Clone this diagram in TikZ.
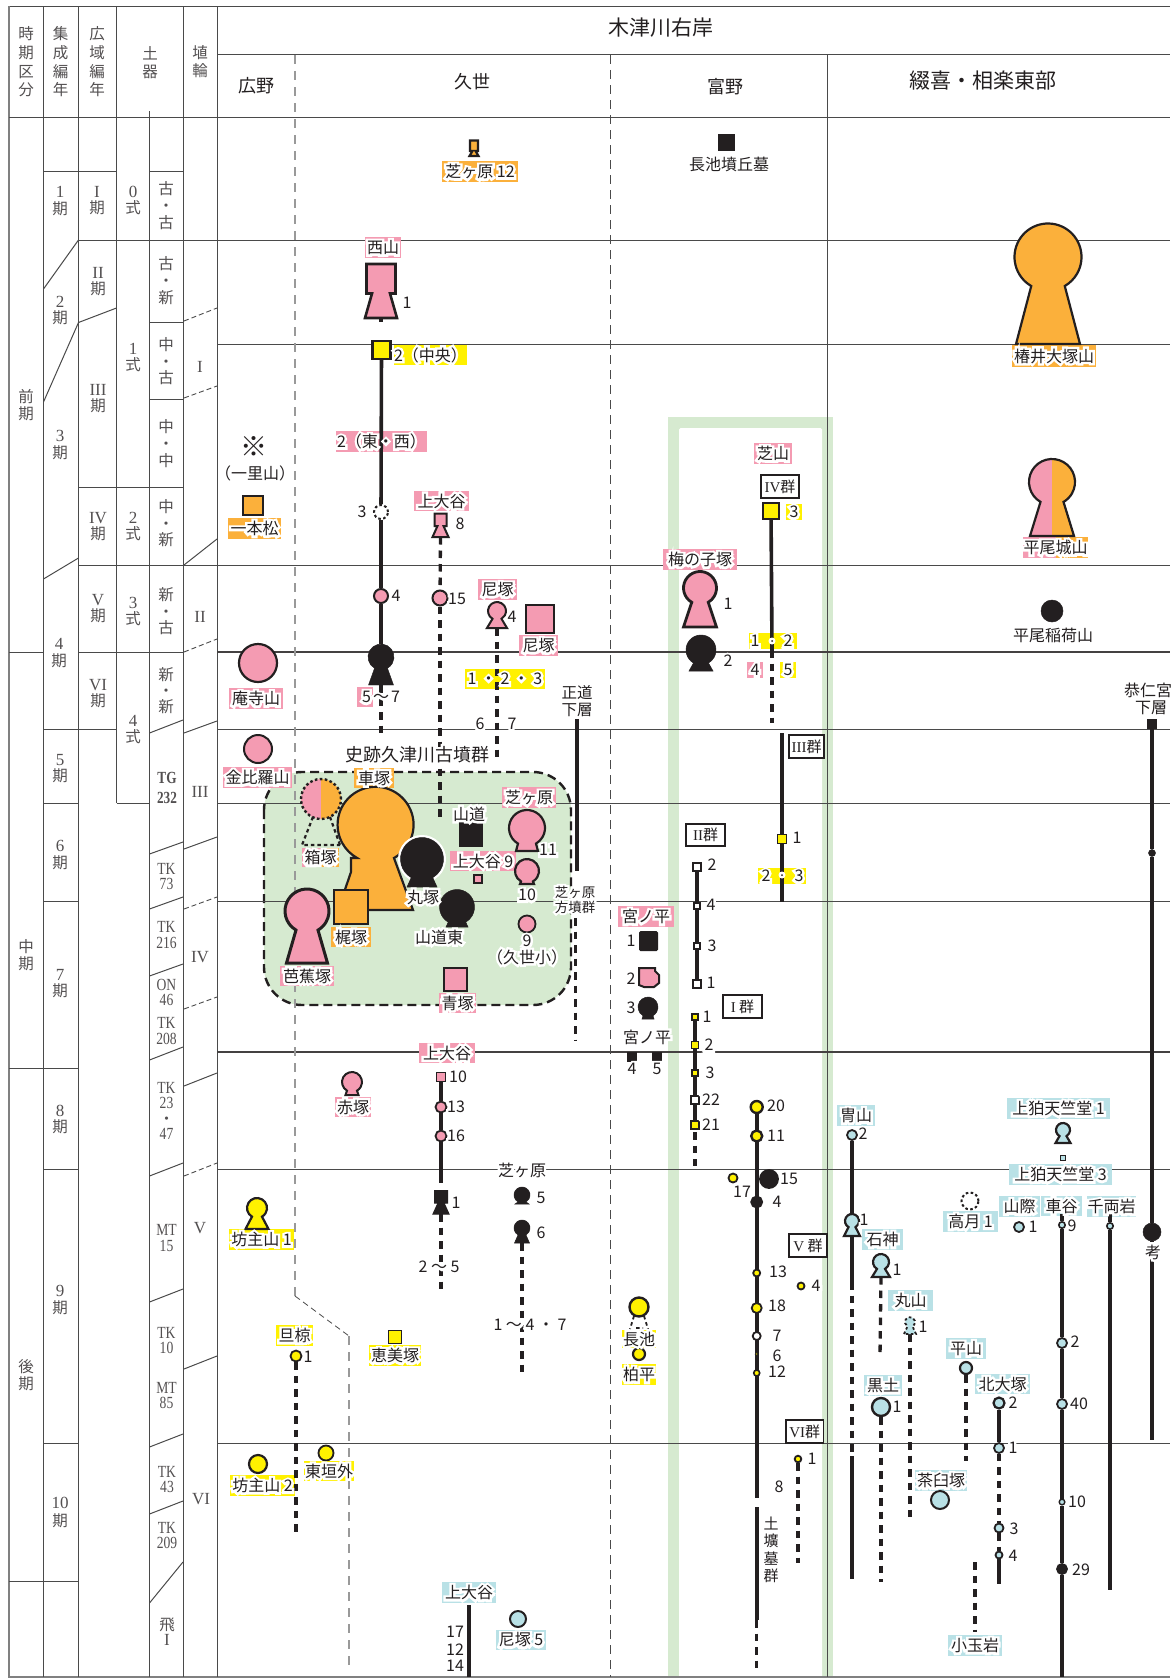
\documentclass[tikz,border=0pt]{standalone}
\usepackage{fontspec}
\usepackage{graphicx}
\setmainfont{Noto Sans CJK JP}
\newfontfamily\ser{Liberation Serif}
\definecolor{ink}{HTML}{231F20}
\definecolor{cpink}{HTML}{F49BB2}
\definecolor{cyel}{HTML}{FFF100}
\definecolor{corg}{HTML}{FBB03B}
\definecolor{cblu}{HTML}{B9E1E6}
\definecolor{cgrn}{HTML}{D6EAD0}
\definecolor{grid}{HTML}{4A4A4A}
\pgfdeclarelayer{l0}\pgfdeclarelayer{l1}\pgfdeclarelayer{l2}\pgfdeclarelayer{l3}\pgfdeclarelayer{l4}
\pgfsetlayers{l0,l1,l2,l3,l4,main}
\newcounter{nn}
\tikzset{
 gl/.style={line width=1pt,draw=grid},
 glk/.style={line width=1.7pt,draw=ink!85},
 gd/.style={line width=.9pt,draw=grid,dash pattern=on 5 off 3},
 sl/.style={line width=3.6pt,draw=ink},
 dl/.style={line width=3.3pt,draw=ink,dash pattern=on 7.5 off 6},
 txt/.style={inner sep=0pt,text=ink,font=\fontsize{16}{17.5}\selectfont},
 tbl/.style={inner sep=0pt,text=ink!78,align=center},
 pk/.style={fill=cpink},yl/.style={fill=cyel},og/.style={fill=corg},bl/.style={fill=cblu},bk/.style={fill=ink},wh/.style={fill=white},
 lw/.style={line width=#1},
 dots/.style={dash pattern=on 2.6 off 2.4},
}
\newcommand\hl[1]{\leavevmode\rlap{\textcolor{white}{\addfontfeature{FakeBold=30}#1}}#1}
\newcommand\lab[6]{\begin{pgfonlayer}{l2}\fill[#1] (#2,#3) rectangle (#4,#5);\end{pgfonlayer}\stepcounter{nn}\node[txt] (n\arabic{nn}) at ({(#2+#4)/2},{(#3+#5)/2}) {\hl{#6}};}
\newcommand\labb[6]{\begin{pgfonlayer}{l2}\fill[cpink] (#2,#3) rectangle ({(#2+#4)/2},#5);\fill[corg] ({(#2+#4)/2},#3) rectangle (#4,#5);\end{pgfonlayer}\stepcounter{nn}\node[txt] (n\arabic{nn}) at ({(#2+#4)/2},{(#3+#5)/2}) {\hl{#6}};}
\newcommand\tx[3]{\stepcounter{nn}\node[txt] (n\arabic{nn}) at (#1,#2) {\hl{#3}};}
\newcommand\gbox[5]{\stepcounter{nn}\node[draw=ink,line width=1.1pt,fill=white,inner sep=0pt,text=ink,font=\fontsize{15}{16}\selectfont,minimum width={(#3-#1)*1pt},minimum height={(#4-#2)*1pt}] (n\arabic{nn}) at ({(#1+#3)/2},{(#2+#4)/2}) {#5};}
\newcommand\cir[5]{\begin{pgfonlayer}{l4}\node[circle,draw=ink,lw=1.8pt,inner sep=0pt,minimum size={2*#4*1pt},#5] (#1) at (#2,#3) {};\end{pgfonlayer}}
\newcommand\sq[5]{\begin{pgfonlayer}{l4}\node[rectangle,draw=ink,lw=1.8pt,inner sep=0pt,minimum size={#4*1pt},#5] (#1) at (#2,#3) {};\end{pgfonlayer}}
\newcommand\keypath[5]{({#1-#5},#4) -- ({#1-#3*cos(60)},{#2+#3*sin(60)}) arc[start angle=120,end angle=420,radius=#3] -- ({#1+#5},#4) -- cycle}
\newcommand\key[7]{\begin{pgfonlayer}{l4}\filldraw[draw=ink,#7] \keypath{#2}{#3}{#4}{#5}{#6};\coordinate (#1) at (#2,#5);\coordinate (#1t) at (#2,{#3-#4});\end{pgfonlayer}}
\newcommand\skey[9]{\begin{pgfonlayer}{l4}\filldraw[draw=ink,#9] ({#2-#4},#3) -- ({#2+#4},#3) -- ({#2+#4},#5) -- ({#2+#6},#5) -- ({#2+#8},#7) -- ({#2-#8},#7) -- ({#2-#6},#5) -- ({#2-#4},#5) -- cycle;\coordinate (#1) at (#2,#7);\coordinate (#1t) at (#2,#3);\end{pgfonlayer}}
\newcommand\pt[3]{\coordinate (#1) at (#2,#3);}
\newcommand\vl[3]{\begin{pgfonlayer}{l3}\draw[#1] (#2) -- (#3);\end{pgfonlayer}}
\newcommand\tb[4]{\stepcounter{nn}\node[tbl,font=\fontsize{15.5}{#3}\selectfont] (n\arabic{nn}) at (#1,#2) {#4};}
\newcommand\dg[1]{{\ser\fontsize{17}{17}\selectfont #1}}
\newcommand\cnd[1]{\scalebox{.8}[1]{\ser\fontsize{17}{17}\selectfont #1}}
\newcommand\bcnd[1]{\scalebox{.78}[1]{\ser\bfseries\fontsize{17}{17}\selectfont #1}}
\begin{document}
\begin{tikzpicture}[x=1pt,y=-1pt]
\useasboundingbox (0,0) rectangle (1170,1678);
% ---- green shapes
\begin{pgfonlayer}{l0}
\fill[white] (0,0) rectangle (1170,1678);
\fill[cgrn] (668,417) rectangle (833,1678);
\fill[white,rounded corners=1.5pt] (679,428) rectangle (822,1690);
\filldraw[fill=cgrn,draw=ink,line width=2.4pt,dash pattern=on 9 off 5,rounded corners=38pt] (264,772) rectangle (571,1005);
\end{pgfonlayer}
% ---- grid
\begin{pgfonlayer}{l1}
\draw[gl] (9,6.5) -- (1170,6.5);
\draw[gl,draw=gray,line width=1.4pt] (9,6.5) -- (9,1677) -- (1170,1677);
\draw[gl] (217,55) -- (1170,55);
\draw[gl] (9,117) -- (1170,117);
\draw[gl] (217,6.5) -- (217,1677);
\draw[gl] (183,6.5) -- (183,1677);
\draw[gl] (149.5,111) -- (149.5,1677);
\draw[gl] (116.5,6.5) -- (116.5,803);
\draw[gl] (78.5,6.5) -- (78.5,1677);
\draw[gl] (43.5,6.5) -- (43.5,1677);
\draw[gl] (827,55) -- (827,1677);
\draw[gl] (43.5,171.5) -- (116.5,171.5);
\draw[gl] (149.5,171.5) -- (183,171.5);
\draw[gl] (78.5,240) -- (1170,240);
\draw[gl] (149.5,322) -- (183,322);
\draw[gl] (217,344) -- (1170,344);
\draw[gl] (149.5,399.5) -- (183,399.5);
\draw[gl] (78.5,487) -- (183,487);
\draw[gl] (78.5,565) -- (1170,565);
\draw[gl] (9,652) -- (43.5,652);
\draw[gl] (78.5,652) -- (183,652);
\draw[glk] (217,652) -- (1170,652);
\draw[gl] (43.5,729) -- (116.5,729);
\draw[gl] (217,729) -- (1170,729);
\draw[gl] (43.5,803) -- (78.5,803);
\draw[gl] (116.5,803) -- (149.5,803);
\draw[gl] (217,803) -- (1170,803);
\draw[gl] (43.5,901) -- (78.5,901);
\draw[gl] (217,901) -- (1170,901);
\draw[glk] (217,1052) -- (1170,1052);
\draw[gl] (9,1068) -- (78.5,1068);
\draw[gl] (43.5,1169) -- (78.5,1169);
\draw[gl] (217,1169) -- (1170,1169);
\draw[gl] (43.5,1443) -- (78.5,1443);
\draw[gl] (217,1443) -- (1170,1443);
\draw[gl] (9,1581) -- (78.5,1581);
% diagonals
\draw[gl] (43.5,289) -- (78.5,240);
\draw[gl] (43.5,402) -- (78.5,322.5) -- (116.5,308);
\draw[gl] (43.5,579) -- (78.5,558);
\draw[gl] (149.5,733) -- (183,720);
\draw[gl] (149.5,854) -- (183,842);
\draw[gl] (149.5,909) -- (183,897);
\draw[gl] (149.5,976) -- (183,964);
\draw[gl] (149.5,1060) -- (183,1047);
\draw[gl] (149.5,1176) -- (183,1163);
\draw[gl] (149.5,1302) -- (183,1289);
\draw[gl] (149.5,1447) -- (183,1434);
\draw[gl] (149.5,1514) -- (183,1501);
\draw[gl] (149.5,1603) -- (183,1562);
\draw[gd] (184,321) -- (217,308);
\draw[gd] (184,398) -- (217,386);
\draw[gl] (184,565) -- (217,539);
\draw[gd] (184,652) -- (217,639);
\draw[gl] (184,733) -- (217,721);
\draw[gl] (184,849) -- (217,837);
\draw[gd] (184,909) -- (217,897);
\draw[gd] (184,1009) -- (217,997);
\draw[gl] (184,1086) -- (217,1073);
\draw[gd] (184,1176) -- (217,1163);
\draw[gl] (184,1369) -- (217,1356);
% regional dashed
\draw[line width=1.1pt,draw=gray!80,dash pattern=on 9 off 7] (295,55) -- (295,1296);
\draw[line width=.8pt,draw=grid,dash pattern=on 6 off 4] (295,1296) -- (349,1336);
\draw[line width=1.1pt,draw=gray!80,dash pattern=on 9 off 7] (349,1336) -- (349,1672);
\draw[line width=.9pt,draw=grid,dash pattern=on 9 off 6] (610,55) -- (610,1677);
\end{pgfonlayer}
% ---- table text
\tb{26}{62}{18.7}{時\\期\\区\\分}
\tb{60.5}{62}{18.7}{集\\成\\編\\年}
\tb{97}{62}{18.7}{広\\域\\編\\年}
\tb{150}{63}{18}{土\\器}
\tb{200}{62}{18}{埴\\輪}
\tb{26}{405}{16.5}{前\\期}
\tb{26}{955.5}{17}{中\\期}
\tb{26}{1375}{16.5}{後\\期}
\tb{60}{201}{16.5}{\dg{1}\\期}
\tb{60}{310.5}{16.5}{\dg{2}\\期}
\tb{60}{445}{16.5}{\dg{3}\\期}
\tb{59}{653}{16.5}{\dg{4}\\期}
\tb{60}{768.5}{16.5}{\dg{5}\\期}
\tb{60}{855}{16.5}{\dg{6}\\期}
\tb{60}{983.5}{16.5}{\dg{7}\\期}
\tb{60}{1119.5}{16.5}{\dg{8}\\期}
\tb{60}{1300}{16.5}{\dg{9}\\期}
\tb{60}{1512.5}{18}{\dg{10}\\期}
\tb{97}{200.5}{16.5}{\dg{I}\\期}
\tb{98}{281.5}{16.5}{\dg{II}\\期}
\tb{98}{398.5}{16.5}{\dg{III}\\期}
\tb{98}{526.5}{16.5}{\dg{IV}\\期}
\tb{98}{608.5}{16.5}{\dg{V}\\期}
\tb{98}{693.5}{16.5}{\dg{VI}\\期}
\tb{133}{200}{16}{\dg{0}\\式}
\tb{133}{357.5}{16}{\dg{1}\\式}
\tb{133}{526.5}{16}{\dg{2}\\式}
\tb{133}{611.5}{16}{\dg{3}\\式}
\tb{133}{730}{16}{\dg{4}\\式}
\tb{166}{206}{17}{古\\・\\古}
\tb{166}{280.5}{17}{古\\・\\新}
\tb{166}{361.5}{16.5}{中\\・\\古}
\tb{166}{444}{17}{中\\・\\中}
\tb{166}{523.5}{16.5}{中\\・\\新}
\tb{166}{611.5}{16.5}{新\\・\\古}
\tb{166}{691}{16}{新\\・\\新}
\tb{167}{788}{20}{\bcnd{TG}\\\bcnd{232}}
\tb{166.5}{876.5}{15}{\cnd{TK}\\\cnd{73}}
\tb{166.5}{935}{15.5}{\cnd{TK}\\\cnd{216}}
\tb{166.5}{992.5}{15}{\cnd{ON}\\\cnd{46}}
\tb{166.5}{1031}{15.5}{\cnd{TK}\\\cnd{208}}
\tb{166.5}{1111}{15.3}{\cnd{TK}\\\cnd{23}\\・\\\cnd{47}}
\tb{166.5}{1238}{15.5}{\cnd{MT}\\\cnd{15}}
\tb{166.5}{1340.5}{15}{\cnd{TK}\\\cnd{10}}
\tb{166.5}{1395.5}{15}{\cnd{MT}\\\cnd{85}}
\tb{167}{1479.5}{15}{\cnd{TK}\\\cnd{43}}
\tb{167}{1535.5}{15}{\cnd{TK}\\\cnd{209}}
\tb{167}{1631.5}{15}{飛\\\dg{I}}
\tb{200}{367}{17}{\dg{I}}
\tb{200}{617}{17}{\dg{II}}
\tb{200}{792}{17}{\dg{III}}
\tb{200}{957}{17}{\dg{IV}}
\tb{200}{1228}{17}{\dg{V}}
\tb{201}{1499}{17}{\dg{VI}}
% ---- headers
\stepcounter{nn}\node[txt,font=\fontsize{18}{20}\selectfont] (n\arabic{nn}) at (256,86) {広野};
\stepcounter{nn}\node[txt,font=\fontsize{18}{20}\selectfont] (n\arabic{nn}) at (472,82) {久世};
\stepcounter{nn}\node[txt,font=\fontsize{18}{20}\selectfont] (n\arabic{nn}) at (725,87) {富野};
\stepcounter{nn}\node[txt,font=\fontsize{21}{23}\selectfont] (n\arabic{nn}) at (983,81) {綴喜・相楽東部};
\stepcounter{nn}\node[txt,font=\fontsize{21}{23}\selectfont] (n\arabic{nn}) at (660.5,28) {木津川右岸};
% ---- 広野
\stepcounter{nn}\node[txt,font=\fontsize{27}{28}\selectfont] (n\arabic{nn}) at (254,447) {※};
\tx{255}{473}{（一里山）}
\sq{ip}{253}{505.5}{19.5}{og,lw=2.2pt}
\lab{corg}{228}{518}{281}{539}{一本松}
\cir{anji}{258}{663}{19}{pk,lw=2.2pt}
\lab{cpink}{229}{688}{283}{709}{庵寺山}
\cir{konp}{258}{749}{14}{pk,lw=2pt}
\lab{cpink}{223}{767}{292}{788}{金比羅山}
\key{bz1}{257}{1208}{10}{1229}{11.5}{yl,lw=2.2pt}
\lab{cyel}{229}{1229}{294}{1250}{坊主山 1}
\cir{bz2}{258}{1464}{9}{yl,lw=2.2pt}
\lab{cyel}{230}{1475}{295}{1496}{坊主山 2}
\lab{cyel}{276}{1325}{313}{1346}{旦椋}
\cir{dan}{296}{1356}{5.5}{yl}
\tx{308}{1357}{1}
\pt{dan2}{296}{1532}
\vl{dl}{dan}{dan2}
\lab{cyel}{304}{1461}{354}{1481}{東垣外}
\cir{hig}{326}{1453}{7.5}{yl}
% ---- 久世 top
\skey{sb}{474}{140.5}{4}{151}{1.5}{156}{4.5}{fill=corg,lw=2.2pt}
\lab{corg}{442}{161}{518}{182}{芝ヶ原 12}
\lab{cpink}{365}{237}{401}{258}{西山}
\skey{nish}{381}{264}{14.5}{293.5}{9}{318}{16}{pk,lw=2.6pt}
\tx{407}{303}{1}
\sq{a2}{381.5}{350}{18}{yl,lw=2.2pt}
\lab{cyel}{394}{345}{467}{365}{2（中央）}
\lab{cpink}{336}{431}{427}{452}{2（東・西）}
\cir{a3}{381}{512}{7}{wh,dots,lw=2pt}
\tx{362}{512}{3}
\cir{a4}{381}{596}{7}{pk,lw=2pt}
\tx{396}{596}{4}
\key{a5}{381}{657}{13}{685}{12.5}{bk}
\lab{cpink}{357}{687}{373}{707}{\phantom{}}
\tx{381}{697}{5\kern2pt～\kern2pt7}
\pt{a1}{381}{318}\pt{a1b}{381}{322}
\pt{a6}{381}{739}
\vl{sl}{a1}{a1b}
\vl{sl}{a2}{a3}\vl{sl}{a3}{a4}\vl{sl}{a4}{a5t}
\vl{dl}{a5}{a6}
\lab{cpink}{414}{491}{469}{511}{上大谷}
\skey{b8}{440.5}{513.5}{6}{526}{3}{537}{8}{pk,lw=2pt}
\tx{460}{524}{8}
\cir{b15}{440}{598}{7.5}{pk,lw=2pt}
\tx{457}{599}{15}
\pt{b2}{440}{817}
\vl{dl}{b8}{b15}\vl{dl}{b15}{b2}
\lab{cpink}{478}{579}{517}{600}{尼塚}
\key{c4}{497}{611}{9}{628}{10}{pk,lw=2pt}
\tx{512}{617}{4}
\sq{ama}{540}{619}{28}{pk,lw=1.8pt}
\lab{cpink}{519}{635}{558}{656}{尼塚}
\lab{cyel}{465}{669}{545}{689}{1\kern4pt・\kern4pt2\kern4pt・\kern4pt3}
\tx{480}{724}{6}\tx{512}{724}{7}
\pt{c2}{497}{760}
\vl{dl}{c4}{c2}
% 正道下層
\stepcounter{nn}\node[txt,align=center,font=\fontsize{15.5}{16.5}\selectfont] (n\arabic{nn}) at (577,701) {正道\\下層};
\pt{m1}{577}{719}\pt{m2}{577}{871}
\vl{sl}{m1}{m2}
\pt{m3}{575.5}{918}\pt{m4}{575.5}{1040}
\vl{dl}{m3}{m4}
\stepcounter{nn}\node[txt,font=\fontsize{13.5}{15}\selectfont] (n\arabic{nn}) at (575,892) {\hl{芝ヶ原}};
\stepcounter{nn}\node[txt,font=\fontsize{13.5}{15}\selectfont] (n\arabic{nn}) at (575,907) {\hl{方墳群}};
% ---- 史跡久津川古墳群
\stepcounter{nn}\node[txt,font=\fontsize{18}{20}\selectfont] (n\arabic{nn}) at (417,755) {\hl{史跡久津川古墳群}};
\begin{pgfonlayer}{l4}
\filldraw[fill=corg,draw=ink,line width=2.2pt] (413,910) -- (394,858) arc[start angle=61,end angle=-241,radius=38] -- (351,858) -- (351,872) -- (338,910) -- cycle;
\fill[cpink] (321,779) arc[start angle=-90,end angle=-270,radius=20] -- cycle;
\fill[corg] (321,779) arc[start angle=-90,end angle=90,radius=20] -- cycle;
\node[circle,draw=ink,line width=2.4pt,dots,inner sep=0pt,minimum size=40pt] (hako) at (321,799) {};
\draw[ink,line width=2.2pt,dash pattern=on 3.5 off 3] (313,817) -- (302,845) -- (340,845);
\draw[ink,line width=2.2pt,dash pattern=on 3.5 off 3] (330,817) -- (340,845);
\end{pgfonlayer}
\lab{corg}{354}{768}{394}{788}{車塚}
\labb{cpink}{302}{848}{339}{867}{箱塚}
\begin{pgfonlayer}{l4}
\node[circle,fill=white,inner sep=0pt,minimum size=48pt] (maruw) at (422,859) {};
\end{pgfonlayer}
\key{maru}{422}{859}{21.5}{887}{15}{bk,lw=.5pt}
\tx{423}{897}{丸塚}
\key{yme}{457}{907}{17.5}{927}{11}{bk,lw=.5pt}
\tx{439}{937}{山道東}
\tx{469}{814}{山道}
\sq{yama}{471}{834.5}{23}{bk}
\lab{cpink}{450}{851}{516}{871}{上大谷 9}
\sq{k9}{478}{879}{8}{pk,lw=1.5pt}
\lab{cpink}{502}{787}{556}{808}{芝ヶ原}
\key{s11}{527}{828}{18}{851}{11}{pk,lw=2.2pt}
\tx{548}{850}{11}
\key{s10}{527}{871}{12}{884}{7}{pk,lw=2.2pt}
\tx{527}{895}{10}
\cir{s9}{527}{924}{8.5}{pk}
\tx{527}{941}{9}
\tx{527}{957}{（久世小）}
\sq{kaji}{350.5}{907}{34}{og,lw=2pt}
\lab{corg}{331}{927}{371}{947}{梶塚}
\key{bas}{307}{911}{22}{963}{20.5}{pk,lw=3pt}
\lab{cpink}{280}{966}{334}{986}{芭蕉塚}
\sq{ao}{455.5}{979.5}{23}{pk,lw=1.8pt}
\lab{cpink}{439}{993}{476}{1013}{青塚}
% ---- 久世 lower
\lab{cpink}{419}{1043}{475}{1063}{上大谷}
\sq{d10}{441}{1077}{9}{pk,lw=1.8pt}
\tx{458}{1077}{10}
\cir{d13}{441}{1107}{5.5}{pk}
\tx{456}{1107}{13}
\cir{d16}{441}{1136}{5.5}{pk}
\tx{456}{1136}{16}
\pt{d17}{441}{1183}
\vl{sl}{d10}{d13}\vl{sl}{d13}{d16}\vl{sl}{d16}{d17}
\skey{d1}{441}{1190.5}{6.5}{1203}{3}{1214}{8}{bk,lw=1pt}
\tx{456}{1203}{1}
\pt{d2}{441}{1292}
\vl{dl}{d1}{d2}
\tx{439}{1267}{2 ～ 5}
\key{e5}{522}{1195}{8}{1204}{7}{bk,lw=.5pt}
\tx{541}{1198}{5}
\key{e6}{522}{1228}{8}{1243}{7.5}{bk,lw=.5pt}
\tx{541}{1233}{6}
\pt{e2}{522}{1372}
\vl{dl}{e6}{e2}
\tx{522}{1170}{芝ヶ原}
\tx{530}{1325}{1 ～ 4 ・ 7}
\key{ak}{352}{1082}{10}{1095}{6.5}{pk,lw=2pt}
\lab{cpink}{335}{1097}{371}{1117}{赤塚}
\sq{emi}{395}{1337}{13}{yl,lw=1.8pt}
\lab{cyel}{369}{1345}{421}{1366}{恵美塚}
\cir{naga}{639}{1307}{9.5}{yl,lw=2.4pt}
\begin{pgfonlayer}{l4}
\draw[ink,line width=1.8pt,dash pattern=on 3.5 off 3] (634,1316) -- (630,1329) (644,1316) -- (648,1329) (636,1328) -- (643,1328);
\end{pgfonlayer}
\lab{cyel}{622}{1330}{656}{1348}{長池}
\cir{kas}{639}{1354}{6}{yl,lw=2.2pt}
\lab{cyel}{622}{1364}{656}{1385}{柏平}
\lab{cblu}{442}{1582}{496}{1603}{上大谷}
\pt{f1}{469}{1605}\pt{f2}{469}{1677}
\vl{sl}{f1}{f2}
\tx{455}{1632}{17}\tx{455}{1650}{12}\tx{455}{1666}{14}
\cir{am5}{518}{1619}{8}{bl,lw=2pt}
\lab{cblu}{496}{1630}{546}{1650}{尼塚 5}
% ---- 富野 IV/III/II/I
\lab{cpink}{754}{443}{792}{464}{芝山}
\gbox{761}{475}{799}{498}{{\ser IV}群}
\sq{g3}{771}{511}{16}{yl,lw=2.4pt}
\lab{cyel}{786}{504}{802}{520}{3}
\lab{cyel}{749}{633}{797}{649}{\phantom{1}}
\tx{755}{641}{1}\tx{788}{641}{2}
\stepcounter{nn}\node[circle,fill=white,inner sep=0pt,minimum size=7pt] (gd) at (772,641) {};
\node[circle,fill=ink,inner sep=0pt,minimum size=2pt] (gd2) at (772,641) {};
\lab{cpink}{747}{662}{763}{678}{4}
\lab{cyel}{780}{662}{796}{678}{5}
\pt{g1}{772}{650}\pt{g2}{772}{723}
\vl{sl}{g3}{g1}\vl{dl}{g1}{g2}
\lab{cpink}{663}{549}{737}{570}{梅の子塚}
\key{um1}{700}{588}{16.5}{627}{16.5}{pk,lw=2.8pt}
\tx{728}{604}{1}
\key{um2}{701}{650}{15}{671}{12}{bk,lw=.5pt}
\tx{728}{661}{2}
\gbox{789}{735}{824}{758}{{\ser III}群}
\sq{h1}{782}{839}{9}{yl,lw=1.8pt}
\tx{797}{838}{1}
\pt{h0}{782}{733}\pt{h2}{782}{902}
\vl{sl}{h0}{h1}\vl{sl}{h1}{h2}
\lab{cyel}{758}{868}{806}{884}{\phantom{1}}
\tx{766}{876}{2}\tx{799}{876}{3}
\stepcounter{nn}\node[circle,fill=white,inner sep=0pt,minimum size=7pt] (hd) at (782,875) {};
\node[circle,fill=ink,inner sep=0pt,minimum size=2pt] (hd2) at (782,875) {};
\gbox{686}{824}{725}{846}{{\ser II}群}
\sq{j2}{697}{867}{8}{wh,lw=2.2pt}
\sq{j4}{697}{906}{6}{wh,lw=2pt}
\sq{j3}{697}{946}{6}{wh,lw=2pt}
\sq{j1}{697}{984}{8}{wh,lw=2.2pt}
\tx{712}{865}{2}\tx{711}{905}{4}\tx{712}{946}{3}\tx{711}{983}{1}
\vl{sl}{j2}{j4}\vl{sl}{j4}{j3}\vl{sl}{j3}{j1}
\gbox{723}{995}{762}{1018}{{\ser I} 群}
\sq{i1}{695}{1017}{5.5}{yl,lw=1.6pt}
\sq{i2}{695}{1045}{7}{yl}
\sq{i3}{695}{1073}{5.5}{yl,lw=1.6pt}
\sq{i22}{695}{1100}{8}{wh}
\sq{i21}{695}{1125}{8}{yl}
\tx{707}{1017}{1}\tx{709}{1045}{2}\tx{710}{1073}{3}\tx{711}{1100}{22}\tx{711}{1125}{21}
\pt{i4}{695}{1132}\pt{i5}{695}{1166}
\vl{sl}{i1}{i2}\vl{sl}{i2}{i3}\vl{sl}{i3}{i22}\vl{sl}{i22}{i21}
\vl{dl}{i4}{i5}
\lab{cpink}{618}{906}{674}{927}{宮ノ平}
\begin{pgfonlayer}{l4}
\fill[ink,rounded corners=1.5pt] (639,931) rectangle (658,951);
\filldraw[fill=cpink,draw=ink,line width=2pt] (639,968) -- (655,968) -- (655,971) -- (659,975) -- (659,983) -- (654,987) -- (644,987) -- (639,985) -- cycle;
\end{pgfonlayer}
\tx{631}{941}{1}\tx{631}{979}{2}\tx{631}{1008}{3}
\key{mi3}{648}{1007}{10}{1019}{6}{bk,lw=.5pt}
\tx{647}{1037}{宮ノ平}
\sq{mi4}{632}{1057}{9}{bk,lw=.5pt}
\sq{mi5}{657}{1057}{9}{bk,lw=.5pt}
\tx{632}{1069}{4}\tx{657}{1069}{5}
% V群
\cir{v20}{756.7}{1107}{6}{yl,lw=2.4pt}
\cir{v11}{756.7}{1136}{5.5}{yl,lw=2.4pt}
\cir{v4}{756.7}{1202}{5.5}{bk}
\cir{v13}{756.7}{1273}{3.5}{yl}
\cir{v18}{756.7}{1308}{5}{yl}
\cir{v7}{756.7}{1336}{4}{wh}
\cir{v6}{756.7}{1354}{1.4}{yl,lw=.8pt}
\cir{v12}{756.7}{1373}{3}{yl,lw=1.6pt}
\pt{vend}{756.7}{1498}
\vl{sl}{v20}{vend}
\pt{vb1}{756.7}{1507}\pt{vb2}{756.7}{1620}\pt{vb3}{756.7}{1672}
\vl{sl}{vb1}{vb2}\vl{dl}{vb2}{vb3}
\tx{776}{1106}{20}\tx{776}{1136}{11}
\cir{v17}{733}{1178}{4.5}{yl}
\tx{742}{1192}{17}
\cir{v15}{769}{1179}{9}{bk}
\tx{789}{1179}{15}
\tx{777}{1202}{4}\tx{778}{1272}{13}\tx{777}{1306}{18}\tx{777}{1336}{7}\tx{777}{1356}{6}\tx{777}{1372}{12}
\gbox{789}{1234}{827}{1257}{{\ser V} 群}
\cir{w4}{801}{1286}{3.5}{yl}
\tx{816}{1286}{4}
\gbox{786}{1420}{823.5}{1443}{{\ser VI}群}
\cir{x1}{798}{1459}{3.3}{yl}
\tx{812}{1459}{1}
\pt{x2}{798}{1563}
\vl{dl}{x1}{x2}
\tx{779}{1487}{8}
\stepcounter{nn}\node[txt,align=center,font=\fontsize{15}{17.5}\selectfont] (n\arabic{nn}) at (771,1550) {土\\壙\\墓\\群};
% ---- 綴喜・相楽東部
\key{tsu}{1048}{257}{33.5}{344}{32}{og,lw=2.2pt}
\lab{corg}{1012}{345}{1096}{367}{椿井大塚山}
\begin{pgfonlayer}{l4}
\fill[cpink] \keypath{1052}{482}{23}{536}{22};
\begin{scope}\clip (1052,400) rectangle (1100,560);\fill[corg] \keypath{1052}{482}{23}{536}{22};\end{scope}
\draw[ink,line width=2.2pt] \keypath{1052}{482}{23}{536}{22};
\end{pgfonlayer}
\labb{cpink}{1023}{537}{1088}{558}{平尾城山}
\cir{hir}{1052}{611}{11}{bk,lw=.5pt}
\tx{1053}{635}{平尾稲荷山}
\tx{1148}{690}{恭仁宮}\tx{1151}{708}{下層}
\sq{ku}{1152}{724}{9}{bk,lw=.5pt}
\cir{ku2}{1152}{853}{3.5}{bk,lw=.5pt}
\cir{ku3}{1152}{1232}{9}{bk,lw=.5pt}
\pt{ku4}{1152}{1440}
\vl{sl}{ku}{ku2}\vl{sl}{ku2}{ku3}\vl{sl}{ku3}{ku4}
\tx{1153}{1252}{考}
\lab{cblu}{837}{1105}{875}{1126}{冑山}
\cir{ka1}{852}{1135}{5}{bl}
\tx{863}{1134}{2}
\key{ka2}{852}{1221}{7}{1236}{8}{bl,lw=2.2pt}
\tx{864}{1220}{1}
\pt{ka3}{852}{1282}\pt{ka4}{852}{1452}\pt{ka5}{852}{1456}\pt{ka6}{852}{1579}
\vl{sl}{ka1}{ka2t}\vl{sl}{ka2}{ka3}\vl{dl}{ka3}{ka4}\vl{sl}{ka5}{ka6}
\lab{cblu}{862}{1229}{903}{1250}{石神}
\key{is}{881}{1262}{8}{1277}{9}{bl,lw=2.2pt}
\tx{897}{1270}{1}
\pt{is2}{880}{1357}
\vl{dl}{is}{is2}
\lab{cblu}{888}{1290}{933}{1311}{丸山}
\key{mar}{910}{1322}{5}{1334}{6}{bl,dots,lw=1.8pt}
\tx{923}{1327}{1}
\pt{mar2}{910}{1520}
\vl{dl}{mar}{mar2}
\lab{cblu}{946}{1338}{986}{1359}{平山}
\cir{hi}{966}{1368}{6}{bl,lw=2.2pt}
\pt{hi2}{966}{1461}
\vl{dl}{hi}{hi2}
\lab{cblu}{975}{1374}{1030}{1394}{北大塚}
\cir{ki2}{999}{1403}{5.5}{bl,lw=2.2pt}
\cir{ki1}{999}{1448}{5}{bl}
\cir{ki3}{999}{1528}{4.5}{bl}
\cir{ki4}{999}{1555}{3.5}{bl}
\pt{ki5}{999}{1584}
\vl{sl}{ki2}{ki1}\vl{dl}{ki1}{ki3}\vl{dl}{ki3}{ki4}\vl{sl}{ki4}{ki5}
\tx{1013}{1403}{2}\tx{1013}{1448}{1}\tx{1014}{1529}{3}\tx{1013}{1556}{4}
\lab{cblu}{864}{1375}{902}{1396}{黒土}
\cir{ku1}{881}{1407}{9}{bl,lw=2.4pt}
\tx{897}{1407}{1}
\pt{kk2}{881}{1582}
\vl{dl}{ku1}{kk2}
\lab{cblu}{915}{1470}{967}{1491}{茶臼塚}
\cir{ch}{940}{1500}{9}{bl,lw=2pt}
\lab{cblu}{948}{1635}{1002}{1656}{小玉岩}
\pt{ko1}{975}{1562}\pt{ko2}{975}{1632}
\vl{dl}{ko1}{ko2}
\lab{cblu}{1007}{1098}{1110}{1119}{上狛天竺堂 1}
\key{te1}{1063}{1130}{7}{1143}{7.5}{bl,lw=2.2pt}
\sq{te3}{1063}{1158}{5}{bl,lw=1.2pt}
\lab{cblu}{1009}{1164}{1112}{1185}{上狛天竺堂 3}
\cir{tak}{970}{1201}{8.5}{wh,dots,lw=2pt}
\lab{cblu}{943}{1211}{998}{1232}{高月 1}
\lab{cblu}{999}{1196}{1040}{1217}{山際}
\cir{yg}{1019}{1227}{5}{bl}
\tx{1033}{1227}{1}
\lab{cblu}{1041}{1196}{1082}{1216}{車谷}
\pt{kr0}{1062}{1214}
\cir{kr9}{1062}{1225}{3.2}{bl,lw=1.6pt}
\cir{kr2}{1062}{1343}{5}{bl}
\cir{kr40}{1062}{1404}{5}{bl}
\cir{kr10}{1062}{1502}{2.8}{bl,lw=1.4pt}
\cir{kr29}{1062}{1569}{5}{bk}
\pt{kr1}{1062}{1677}
\vl{sl}{kr0}{kr9}\vl{sl}{kr9}{kr2}\vl{sl}{kr2}{kr40}\vl{sl}{kr40}{kr10}\vl{sl}{kr10}{kr29}\vl{sl}{kr29}{kr1}
\tx{1072}{1226}{9}\tx{1075}{1342}{2}\tx{1079}{1404}{40}\tx{1077}{1502}{10}\tx{1081}{1570}{29}
\lab{cblu}{1087}{1196}{1136}{1217}{千両岩}
\pt{se0}{1110}{1214}
\cir{se1}{1110}{1226}{3.2}{bl,lw=1.6pt}
\pt{se2}{1110}{1590}
\vl{sl}{se0}{se1}\vl{sl}{se1}{se2}
\tx{729}{164}{長池墳丘墓}
\sq{nk}{726}{142}{16}{bk,lw=.5pt}
\end{tikzpicture}
\end{document}
